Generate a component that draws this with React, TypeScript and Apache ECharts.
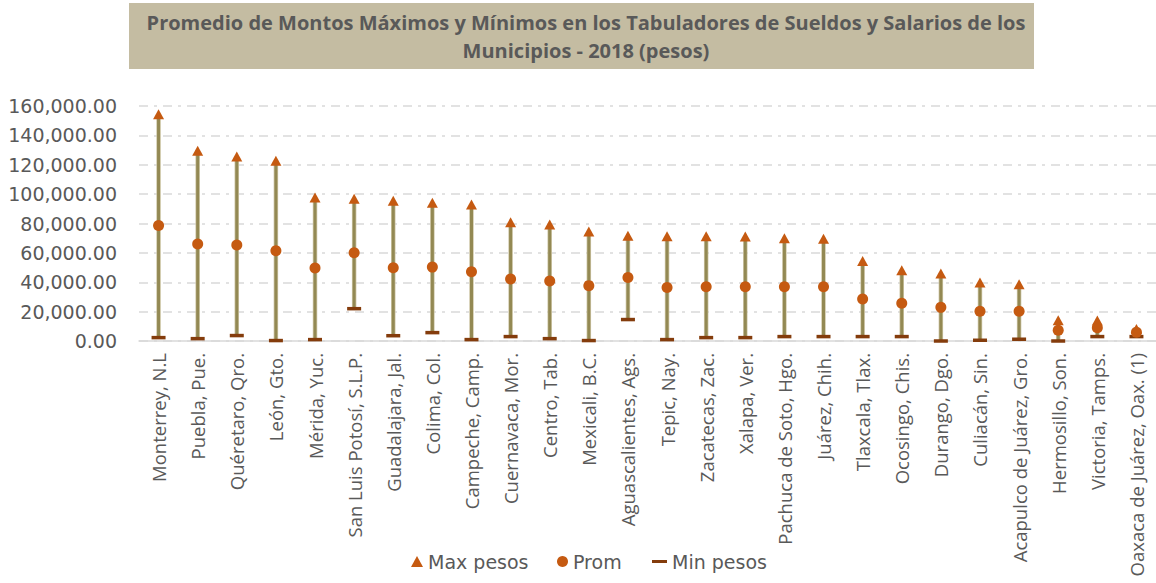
import React, { useEffect, useRef } from "react";
import * as echarts from "echarts";

const categories = [
  "Monterrey, N.L",
  "Puebla, Pue.",
  "Quéretaro, Qro.",
  "León, Gto.",
  "Mérida, Yuc.",
  "San Luis Potosí, S.L.P.",
  "Guadalajara, Jal.",
  "Colima, Col.",
  "Campeche, Camp.",
  "Cuernavaca, Mor.",
  "Centro, Tab.",
  "Mexicali, B.C.",
  "Aguascalientes, Ags.",
  "Tepic, Nay.",
  "Zacatecas, Zac.",
  "Xalapa, Ver.",
  "Pachuca de Soto, Hgo.",
  "Juárez, Chih.",
  "Tlaxcala, Tlax.",
  "Ocosingo, Chis.",
  "Durango, Dgo.",
  "Culiacán, Sin.",
  "Acapulco de Juárez, Gro.",
  "Hermosillo, Son.",
  "Victoria, Tamps.",
  "Oaxaca de Juárez, Oax. (1)",
];

const maxPesos = [
  154300, 129500, 125600, 122700, 97700, 96900, 95500, 94200, 93000, 80800,
  79400, 74600, 71700, 71400, 71400, 71200, 69900, 69700, 54400, 48100,
  46000, 39900, 38600, 14100, 13900, 8200,
];

const prom = [
  78700, 66000, 65300, 61500, 49700, 60100, 49900, 50300, 47200, 42200,
  40800, 37700, 43300, 36500, 37000, 37000, 37000, 37000, 28600, 25700,
  22900, 20200, 20200, 7300, 9100, 5900,
];

const minPesos = [
  2300, 1600, 3700, 300, 950, 22000, 3600, 5700, 950, 3000,
  1600, 300, 14600, 950, 2300, 2300, 3000, 3000, 3000, 3000,
  0, 500, 1200, 0, 3000, 3000,
];

const yTicks = { min: 0, max: 160000, interval: 20000 };

export default function App() {
  const ref = useRef<HTMLDivElement>(null);

  useEffect(() => {
    if (!ref.current) return;
    const chart = echarts.init(ref.current, null, { renderer: "svg" });
    const textColor = "#595959";
    const legendText = { fontFamily: "DejaVu Sans", fontSize: 19, color: textColor };

    chart.setOption({
      animation: false,
      backgroundColor: "#ffffff",
      graphic: [
        {
          type: "rect",
          shape: { x: 129, y: 3, width: 905, height: 66 },
          style: { fill: "#C4BCA2" },
          z: 0,
        },
      ],
      title: {
        text: "Promedio de Montos Máximos y Mínimos en los Tabuladores de Sueldos y Salarios de los\nMunicipios - 2018 (pesos)",
        left: 581,
        top: 3,
        textAlign: "center",
        textStyle: {
          fontFamily: "Open Sans",
          fontWeight: "bold",
          fontSize: 20,
          color: textColor,
          lineHeight: 28,
        },
        z: 5,
      },
      legend: [
        {
          data: [{ name: "Max pesos", icon: "triangle" }],
          left: 406,
          top: 547,
          itemWidth: 12,
          itemHeight: 11,
          textStyle: legendText,
        },
        {
          data: [{ name: "Prom", icon: "circle" }],
          left: 552,
          top: 547,
          itemWidth: 11,
          itemHeight: 11,
          textStyle: legendText,
        },
        {
          data: [{ name: "Min pesos", icon: "rect" }],
          left: 647,
          top: 547,
          itemWidth: 15,
          itemHeight: 3,
          textStyle: legendText,
        },
      ],
      grid: { left: 139, top: 106, width: 1020, height: 235, containLabel: false },
      xAxis: {
        type: "category",
        data: categories,
        axisLine: { lineStyle: { color: "#D9D9D9", width: 1.5 } },
        axisTick: { show: false },
        axisLabel: {
          interval: 0,
          rotate: 90,
          margin: 12,
          fontFamily: "Open Sans",
          fontSize: 18.5,
          color: textColor,
        },
        splitLine: { show: false },
      },
      yAxis: {
        type: "value",
        min: yTicks.min,
        max: yTicks.max,
        interval: yTicks.interval,
        axisLine: { show: false },
        axisTick: { show: false },
        axisLabel: {
          margin: 22,
          fontFamily: "DejaVu Sans",
          fontSize: 19,
          color: textColor,
          formatter: (v: number) =>
            v.toLocaleString("en-US", { minimumFractionDigits: 2, maximumFractionDigits: 2 }),
        },
        splitLine: {
          lineStyle: { color: "#D9D9D9", width: 1.5, type: [9, 6, 3, 6] },
        },
      },
      series: [
        {
          name: "stems",
          type: "custom",
          silent: true,
          data: categories.map((_, i) => [i, minPesos[i], maxPesos[i]]),
          encode: { x: 0, y: [1, 2] },
          renderItem: (_params: any, api: any) => {
            const lo = api.coord([api.value(0), api.value(1)]);
            const hi = api.coord([api.value(0), api.value(2)]);
            return {
              type: "group",
              children: [
                {
                  type: "line",
                  shape: { x1: lo[0], y1: lo[1], x2: hi[0], y2: hi[1] },
                  style: { stroke: "#CFC7A8", lineWidth: 4.5 },
                },
                {
                  type: "line",
                  shape: { x1: lo[0], y1: lo[1], x2: hi[0], y2: hi[1] },
                  style: { stroke: "#938953", lineWidth: 3 },
                },
              ],
            };
          },
          z: 1,
        },
        {
          name: "Min pesos",
          type: "scatter",
          data: minPesos,
          symbol: "rect",
          symbolSize: [14, 3.5],
          itemStyle: { color: "#843C0C", opacity: 1 },
          z: 3,
        },
        {
          name: "Prom",
          type: "scatter",
          data: prom,
          symbol: "circle",
          symbolSize: 11,
          itemStyle: { color: "#C55A11", opacity: 1 },
          z: 4,
        },
        {
          name: "Max pesos",
          type: "scatter",
          data: maxPesos,
          symbol: "triangle",
          symbolSize: [11, 10],
          itemStyle: { color: "#C55A11", opacity: 1 },
          z: 5,
        },
      ],
    });

    return () => chart.dispose();
  }, []);

  return (
    <div
      ref={ref}
      style={{ position: "fixed", left: 0, top: 0, width: 1156, height: 583 }}
    />
  );
}
